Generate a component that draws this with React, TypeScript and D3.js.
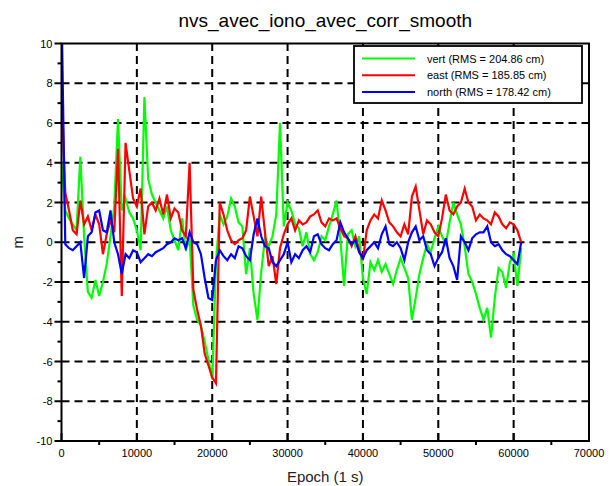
import * as d3 from "d3";

const title = "nvs_avec_iono_avec_corr_smooth";
const xLabel = "Epoch (1 s)";
const yLabel = "m";

// epoch step of the sampled series (s)
const EPOCH_STEP = 500;

const vert = [
  4.0, 1.6, 1.2, 0.9, 0.6, 4.3, 0.3, -2.5, -2.8, -1.9,
  -2.7, -2.0, -1.1, 0.3, 1.8, 6.2, 1.6, 2.2, 1.5, 1.2,
  0.6, -0.4, 7.3, 3.2, 2.4, 2.0, 1.6, 1.2, 1.8, 0.6,
  0.1, -0.4, 1.2, -0.4, 0.2, -3.2, -3.9, -4.2, -5.0, -5.9,
  -6.9, -1.0, 1.4, 0.9, 1.3, 2.2, 1.8, 1.0, 0.8, -1.6,
  -0.3, -2.6, -3.9, -1.5, 0.2, -0.2, 0.3, 1.4, 6.0, 0.8,
  2.0, 1.6, 0.9, 0.7, -0.2, 0.5, -0.6, -0.9, -0.5, 0.3,
  0.1, 0.8, 1.4, 2.1, 0.2, -2.2, 0.4, 0.6, -0.2, 0.3,
  -1.8, -2.6, -1.0, -1.4, -0.9, -1.5, -1.1, -1.6, -2.1, -1.4,
  -0.8, -1.3, -1.8, -3.9, -2.8, -1.6, -0.8, -0.1, -0.5, 0.2,
  0.8, 0.3, -0.1, 1.0, 2.0, 1.4, 0.9, -0.2, -1.6, -2.0,
  -2.6, -3.3, -3.9, -3.3, -4.8, -2.8, -1.3, -1.5, -2.3, -1.0,
  -0.6, -2.2, -0.3,
];

const east = [
  7.7, 2.5, 1.6, 0.6, 0.4, 2.1, 0.9, 1.3, 0.6, 1.4,
  0.9, -0.6, 0.4, 1.1, 0.5, 4.7, -2.7, 5.0, 3.6, 2.2,
  1.8, 2.7, 0.4, 1.8, 2.0, 1.6, 2.2, 1.4, 2.4, 1.2,
  1.7, 1.5, 0.6, 0.3, 4.0, -2.4, -3.4, -4.2, -5.6, -6.2,
  -6.8, -7.1, 2.0, 1.4, 0.6, 0.1, -0.1, 0.1, 0.2, 0.6,
  2.3, 1.3, 0.3, 2.3, 0.5, -1.2, -0.7, -2.1, -0.3, 0.4,
  0.9, 1.2, 0.6, 1.1, 0.9, 1.0, 1.3, 1.4, 1.6, 1.0,
  0.8, 1.2, 1.1, 1.2, 0.7, 0.3, 0.2, -0.2, 0.3, -0.4,
  -0.9, 0.6, 1.1, 1.4, 1.2, 2.1, 1.6, 1.0, 0.8, 0.5,
  0.3, 0.9, 0.4, 2.3, 2.8, 1.6, 0.4, 1.1, 0.9, 0.5,
  0.3, 1.2, 2.4, 1.6, 1.4, 1.8, 2.0, 2.7, 2.0, 1.8,
  1.1, 1.4, 1.2, 1.1, 0.9, 1.5, 1.3, 0.9, 0.7, 1.0,
  0.9, 0.6, 0.0,
];

const north = [
  12, -0.1, -0.3, -0.4, -0.2, 0.0, -1.8, 0.3, 0.5, 1.5,
  1.6, 0.6, 0.5, 1.6, 0.0, -0.6, -1.6, -0.6, -0.8, -0.4,
  -0.5, -1.0, -0.8, -0.6, -0.7, -0.5, -0.4, -0.3, -0.1, 0.0,
  0.2, 0.1, 0.2, -0.3, 0.5, 0.0, -0.1, -0.6, -1.8, -2.8,
  -2.9, -0.9, -0.4, -0.7, -0.9, -0.6, -0.8, -0.2, -0.3, -0.7,
  -0.9, 0.4, 1.2, 0.3, -0.2, -0.3, -1.0, -1.2, -0.9, -0.6,
  0.0, -1.0, -0.6, -0.8, -0.4, -0.2, -0.5, 0.3, 0.4, -0.1,
  -0.3, -0.4, -0.1, 0.1, 1.0, 0.5, 0.2, -0.1, 0.1, -0.5,
  -0.8, -0.4, -0.2, 0.0, -0.3, 0.4, 0.8, -0.1, -0.2, 0.0,
  -0.3, -0.9, 0.0, 0.5, 0.8, 0.1, 0.3, -0.4, -0.6, -1.2,
  -0.8, -0.5, 0.2, -0.8, -1.2, -1.9, 0.3, 0.0, -0.4, 0.2,
  0.4, 0.5, 0.5, 0.8, 0.0, -0.2, -0.1, -0.4, -0.6, -0.7,
  -0.9, -1.1, 0.0,
];

const seriesNames = ["vert (RMS = 204.86 cm)", "east (RMS = 185.85 cm)", "north (RMS = 178.42 cm)"];
const seriesColors = ["#00ff00", "#ff0000", "#0000ff"];
const seriesValues = [vert, east, north];

const xTicks = [0, 10000, 20000, 30000, 40000, 50000, 60000, 70000];
const xMinor = [5000, 15000, 25000, 35000, 45000, 55000, 65000];
const yTicks = [-10, -8, -6, -4, -2, 0, 2, 4, 6, 8, 10];
const yMinor = [-9, -7, -5, -3, -1, 1, 3, 5, 7, 9];

const W = 615;
const H = 486;
const left = 61.5, right = 589, top = 43.5, bottom = 441;
const font = "'Liberation Sans', Arial, Helvetica, sans-serif";

export default function App() {
  const x = d3.scaleLinear().domain([0, 70000]).range([left, right]);
  const y = d3.scaleLinear().domain([-10, 10]).range([bottom, top]);

  const line = d3
    .line<number>()
    .x((_, i) => x(i * EPOCH_STEP))
    .y((d) => y(d));

  const legend = { x0: 354, y0: 46, w: 228, h: 57 };

  return (
    <svg
      width={W}
      height={H}
      style={{ position: "absolute", left: 0, top: 0, background: "#fff" }}
    >
      <defs>
        <clipPath id="plot">
          <rect x={left} y={top} width={right - left} height={bottom - top} />
        </clipPath>
      </defs>

      {/* grid */}
      {xTicks.slice(1, -1).map((t) => (
        <line key={"gx" + t} x1={x(t)} x2={x(t)} y1={bottom} y2={top}
          stroke="#000" strokeWidth={2} strokeDasharray="8,5" />
      ))}
      {yTicks.slice(1, -1).map((t) => (
        <line key={"gy" + t} x1={left} x2={right} y1={y(t)} y2={y(t)}
          stroke="#000" strokeWidth={2} strokeDasharray="8,5" />
      ))}

      {/* series */}
      <g clipPath="url(#plot)">
        {seriesValues.map((vals, k) => (
          <path key={k} d={line(vals) ?? ""} fill="none"
            stroke={seriesColors[k]} strokeWidth={2.2} strokeLinejoin="miter" />
        ))}
      </g>

      {/* box */}
      <rect x={left} y={top} width={right - left} height={bottom - top}
        fill="none" stroke="#000" strokeWidth={2} />

      {/* y ticks */}
      {yTicks.map((t) => (
        <g key={"yt" + t}>
          <line x1={left - 7} x2={left} y1={y(t)} y2={y(t)} stroke="#000" strokeWidth={2} />
          <text x={left - 9} y={y(t) + 4} fontSize={11} fontFamily={font} textAnchor="end">{t}</text>
        </g>
      ))}
      {yMinor.map((t) => (
        <line key={"ym" + t} x1={left - 4} x2={left} y1={y(t)} y2={y(t)} stroke="#000" strokeWidth={2} />
      ))}

      {/* x ticks */}
      {xTicks.map((t) => (
        <g key={"xt" + t}>
          <line x1={x(t)} x2={x(t)} y1={bottom} y2={bottom - 8} stroke="#000" strokeWidth={2} />
          <text x={x(t)} y={bottom + 16} fontSize={11} fontFamily={font} textAnchor="middle">{t}</text>
        </g>
      ))}
      {xMinor.map((t) => (
        <line key={"xm" + t} x1={x(t)} x2={x(t)} y1={bottom} y2={bottom + 4} stroke="#000" strokeWidth={2} />
      ))}

      {/* legend */}
      <rect x={legend.x0} y={legend.y0} width={legend.w} height={legend.h}
        fill="#fff" stroke="#000" strokeWidth={1.8} />
      {seriesNames.map((name, k) => {
        const ly = legend.y0 + 12.5 + k * 16.7;
        return (
          <g key={"lg" + k}>
            <line x1={legend.x0 + 8} x2={legend.x0 + 61} y1={ly} y2={ly}
              stroke={seriesColors[k]} strokeWidth={2} />
            <text x={legend.x0 + 73} y={ly + 4} fontSize={11} fontFamily={font}>{name}</text>
          </g>
        );
      })}

      {/* titles */}
      <text x={(left + right) / 2} y={27} fontSize={19} fontFamily={font} textAnchor="middle">{title}</text>
      <text x={(left + right) / 2} y={482} fontSize={15} fontFamily={font} textAnchor="middle" fill="#222">{xLabel}</text>
      <text transform={`translate(23,${y(0)}) rotate(-90)`} fontSize={15} fontFamily={font} textAnchor="middle" fill="#222">{yLabel}</text>
    </svg>
  );
}
